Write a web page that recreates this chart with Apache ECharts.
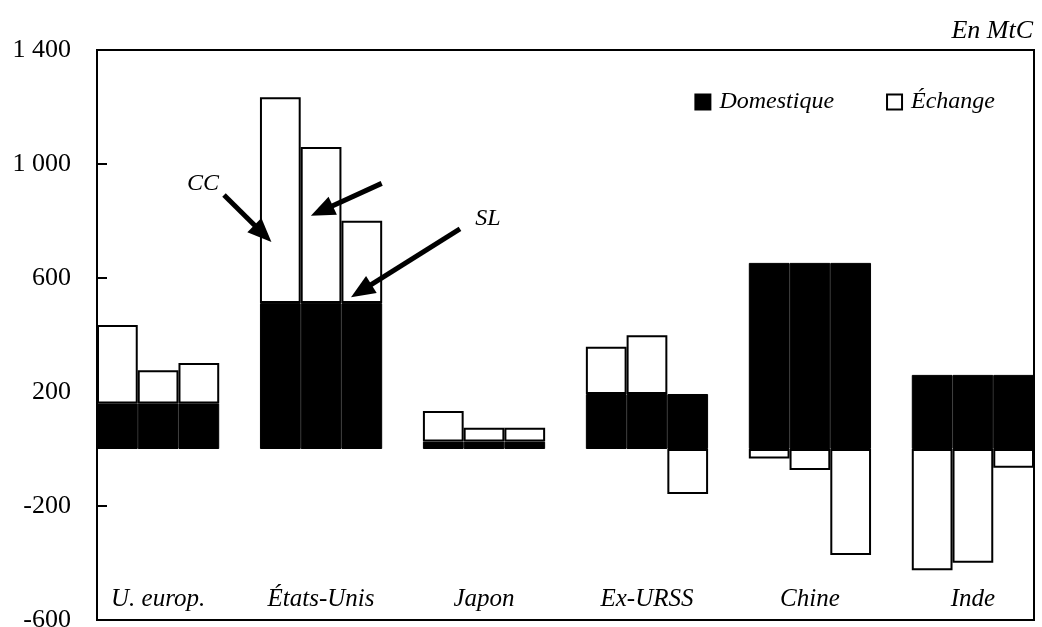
<!DOCTYPE html>
<html>
<head>
<meta charset="utf-8">
<script src="https://cdn.jsdelivr.net/npm/echarts@6/dist/echarts.min.js"></script>
<style>
  html, body { margin: 0; padding: 0; background: #fff; }
  #chart { width: 1042px; height: 627px; }
</style>
</head>
<body>
<div id="chart"></div>
<script>
// ---- Data (MtC) ----
const categories = ['U. europ.', 'États-Unis', 'Japon', 'Ex-URSS', 'Chine', 'Inde'];
const domestic = [160, 512, 26, 193, 653, 260];
const exchangeScenario1 = [275, 722, 107, 166, -33, -425];
const exchangeScenario2 = [116, 548, 49, 206, -74, -399];
const exchangeScenario3 = [142, 289, 49, -158, -372, -66];
const yTicks = [-600, -200, 200, 600, 1000, 1400];
const yTickLabels = ['-600', '-200', '200', '600', '1 000', '1 400'];
const seriesNames = ['Domestique', 'Échange'];
const unitLabel = 'En MtC';
// annotation arrows, in data space (slot units on x, MtC on y)
const arrowLines = [
  [[3.117, 891], [4.072, 756]],
  [[6.988, 932], [5.518, 836]],
  [[8.910, 772], [6.485, 555]]
];
const annotationTexts = [
  { text: 'CC', x: 2.602, y: 930 },
  { text: 'SL', x: 9.597, y: 807 }
];

// ---- Build slot-based data: 3 bars per group + 1 empty gap slot ----
const exchange = [exchangeScenario1, exchangeScenario2, exchangeScenario3];
const slotLabels = [];
const domData = [];
const exData = [];
categories.forEach((c, g) => {
  for (let s = 0; s < 3; s++) {
    slotLabels.push(s === 1 ? c : '');
    domData.push(domestic[g]);
    exData.push(exchange[s][g]);
  }
  if (g < categories.length - 1) {
    slotLabels.push('');
    domData.push('-');
    exData.push('-');
  }
});
const nSlots = slotLabels.length;

const FONT = 'Liberation Serif';
const chart = echarts.init(document.getElementById('chart'));
chart.setOption({
  animation: false,
  backgroundColor: '#fff',
  title: {
    text: unitLabel,
    right: 4,
    top: 13,
    textStyle: { fontFamily: FONT, fontSize: 26, fontStyle: 'italic', fontWeight: 'normal', color: '#000' }
  },
  legend: {
    data: seriesNames,
    icon: 'rect',
    right: 42,
    top: 85,
    itemWidth: 15,
    itemHeight: 15,
    itemGap: 52,
    textStyle: { fontFamily: FONT, fontSize: 24, fontStyle: 'italic', color: '#000', padding: [0, 0, 0, 4] }
  },
  grid: {
    left: 97, right: 8, top: 50, bottom: 7,
    outerBoundsMode: 'none',
    containLabel: false,
    show: true, borderColor: '#000', borderWidth: 2, backgroundColor: 'transparent'
  },
  xAxis: [{
    type: 'category',
    data: slotLabels,
    boundaryGap: true,
    axisLine: { show: true, onZero: false, lineStyle: { color: '#000', width: 2 } },
    axisTick: { show: false },
    axisLabel: {
      inside: true, interval: 0, margin: 8,
      fontFamily: FONT, fontSize: 25, fontStyle: 'italic', color: '#000'
    },
    splitLine: { show: false }
  }, {
    type: 'value',
    min: 0, max: nSlots,
    show: false
  }],
  yAxis: {
    type: 'value',
    min: -600, max: 1400, interval: 400,
    axisLine: { show: true, lineStyle: { color: '#000', width: 2 } },
    axisTick: { show: true, inside: true, length: 10, lineStyle: { color: '#000', width: 2 } },
    axisLabel: {
      margin: 26,
      fontFamily: FONT, fontSize: 26, color: '#000',
      formatter: v => {
        const i = yTicks.indexOf(v);
        return i >= 0 ? yTickLabels[i] : '';
      }
    },
    splitLine: { show: false }
  },
  series: [{
    name: seriesNames[0],
    type: 'bar',
    stack: 'total',
    data: domData,
    barWidth: '100%',
    barCategoryGap: '0%',
    itemStyle: { color: '#000', borderColor: '#000', borderWidth: 1 },
    emphasis: { disabled: true }
  }, {
    name: seriesNames[1],
    type: 'bar',
    stack: 'total',
    data: exData,
    barWidth: '100%',
    barCategoryGap: '0%',
    itemStyle: { color: '#fff', borderColor: '#000', borderWidth: 2 },
    emphasis: { disabled: true }
  }, {
    name: 'annotations',
    type: 'line',
    xAxisIndex: 1,
    data: [],
    silent: true,
    markLine: {
      silent: true,
      symbol: ['none', 'triangle'],
      symbolSize: [20, 24],
      label: { show: false },
      lineStyle: { color: '#000', width: 5, type: 'solid' },
      data: arrowLines.map(([a, b]) => [{ coord: a }, { coord: b }])
    },
    markPoint: {
      silent: true,
      symbol: 'circle',
      symbolSize: 1,
      itemStyle: { color: 'rgba(0,0,0,0)' },
      label: {
        show: true, position: 'inside',
        formatter: p => p.name,
        fontFamily: FONT, fontSize: 24, fontStyle: 'italic', color: '#000'
      },
      data: annotationTexts.map(t => ({ name: t.text, coord: [t.x, t.y] }))
    }
  }]
});
</script>
</body>
</html>
